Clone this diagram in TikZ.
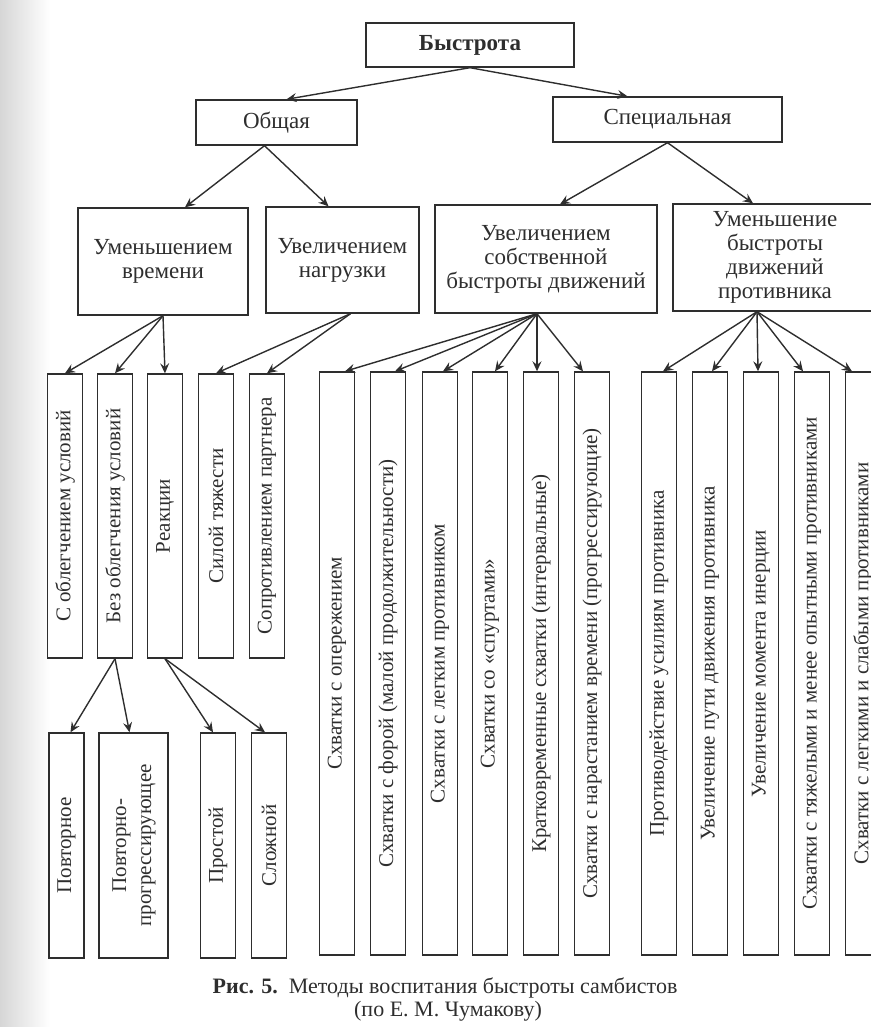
\documentclass[tikz,border=0pt]{standalone}
\usepackage{fontspec}
\setmainfont{Liberation Serif}
\usetikzlibrary{arrows.meta,positioning}
\colorlet{ink}{black!82}

\begin{document}
\begin{tikzpicture}[x=0.5pt,y=-0.5pt,
    box/.style={draw=ink,line width=0.7pt,inner sep=0pt,align=center,text=ink,font=\fontsize{11.5}{12}\selectfont},
    vbox/.style={draw=ink,line width=0.7pt,inner sep=0pt,minimum width=17.5pt,text=ink,font=\fontsize{10.5}{12.5}\selectfont},
    short/.style={vbox,minimum height=142pt},
    long/.style={vbox,minimum height=291.5pt},
    low/.style={vbox,minimum height=112.5pt},
    arr/.style={draw=ink,line width=0.7pt,-{Stealth[length=5pt,width=4.5pt,inset=1.8pt]}}]
    \useasboundingbox (0,0) rectangle (871,1027);
    % scan shadow on the left edge
    \shade[left color=black!16,right color=white] (0,0) rectangle (50,1027);

    % top levels
    \node[box,font=\fontsize{11.5}{12}\selectfont\bfseries,minimum width=104pt,minimum height=22pt] (bystr) at (470,45) {Быстрота};
    \node[box,minimum width=80.5pt,minimum height=22.5pt] (obsh) at (276.5,122.5) {Общая};
    \node[box,minimum width=114.5pt,minimum height=22.5pt] (spec) at (667.5,119.5) {Специальная};
    \node[box,minimum width=85pt,minimum height=53.5pt] (umvr) at (163,261.5) {Уменьшением\\времени};
    \node[box,minimum width=76.5pt,minimum height=53pt] (uvnag) at (342.5,260) {Увеличением\\нагрузки};
    \node[box,minimum width=111pt,minimum height=54pt] (uvsob) at (546,259) {Увеличением\\собственной\\быстроты движений};
    \node[box,minimum width=102pt,minimum height=53.5pt] (umprot) at (775,257.5) {Уменьшение\\быстроты\\движений\\противника};

    % vertical boxes
    \node[short] (s1) at (65,516) {\rotatebox{90}{С облегчением условий}};
    \node[short] (s2) at (115,516) {\rotatebox{90}{Без облегчения условий}};
    \node[short] (s3) at (165,516) {\rotatebox{90}{Реакции}};
    \node[short] (s4) at (216,516) {\rotatebox{90}{Силой тяжести}};
    \node[short] (s5) at (267,516) {\rotatebox{90}{Сопротивлением партнера}};

    \node[long] (l1) at (337,663.5) {\rotatebox{90}{Схватки с опережением}};
    \node[long] (l2) at (388,663.5) {\rotatebox{90}{Схватки с форой (малой продолжительности)}};
    \node[long] (l3) at (440,663.5) {\rotatebox{90}{Схватки с легким противником}};
    \node[long] (l4) at (490,663.5) {\rotatebox{90}{Схватки со «спуртами»}};
    \node[long] (l5) at (541,663.5) {\rotatebox{90}{Кратковременные схватки (интервальные)}};
    \node[long] (l6) at (592,663.5) {\rotatebox{90}{Схватки с нарастанием времени (прогрессирующие)}};

    \node[long] (r1) at (659,663.5) {\rotatebox{90}{Противодействие усилиям противника}};
    \node[long] (r2) at (710,663.5) {\rotatebox{90}{Увеличение пути движения противника}};
    \node[long] (r3) at (761,663.5) {\rotatebox{90}{Увеличение момента инерции}};
    \node[long] (r4) at (812,663.5) {\rotatebox{90}{Схватки с тяжелыми и менее опытными противниками}};
    \node[long] (r5) at (863,663.5) {\rotatebox{90}{Схватки с легкими и слабыми противниками}};

    \node[low] (b1) at (66.5,845.5) {\rotatebox{90}{Повторное}};
    \node[low,minimum width=34.5pt] (b2) at (133.5,845.5) {\rotatebox{90}{\begin{tabular}{@{}c@{}}Повторно-\\прогрессирующее\end{tabular}}};
    \node[low] (b3) at (218,845.5) {\rotatebox{90}{Простой}};
    \node[low] (b4) at (269,845.5) {\rotatebox{90}{Сложной}};

    % caption
    \node[text=ink,font=\fontsize{11}{13}\selectfont] (capt1) at (445,988) {\textbf{Рис. 5.}\ \ Методы воспитания быстроты самбистов};
    \node[text=ink,font=\fontsize{11}{13}\selectfont] (capt2) at (448,1011) {(по Е. М. Чумакову)};

    % arrows
    \draw[arr] (bystr.south) -- ([xshift=5pt]obsh.north);
    \draw[arr] (bystr.south) -- ([xshift=-20pt]spec.north);
    \draw[arr] ([xshift=-6pt]obsh.south) -- ([xshift=11pt]umvr.north);
    \draw[arr] ([xshift=-6pt]obsh.south) -- ([xshift=-7pt]uvnag.north);
    \draw[arr] (spec.south) -- ([xshift=7pt]uvsob.north);
    \draw[arr] (spec.south) -- ([xshift=-11pt]umprot.north);

    \draw[arr] (umvr.south) -- (s1.north);
    \draw[arr] (umvr.south) -- (s2.north);
    \draw[arr] (umvr.south) -- (s3.north);
    \draw[arr] ([xshift=4pt]uvnag.south) -- (s4.north);
    \draw[arr] ([xshift=4pt]uvnag.south) -- (s5.north);

    \draw[arr] ([xshift=-4.5pt]uvsob.south) -- ([xshift=4pt]l1.north);
    \draw[arr] ([xshift=-4.5pt]uvsob.south) -- ([xshift=3.5pt]l2.north);
    \draw[arr] ([xshift=-4.5pt]uvsob.south) -- ([xshift=1.5pt]l3.north);
    \draw[arr] ([xshift=-4.5pt]uvsob.south) -- ([xshift=2.5pt]l4.north);
    \draw[arr] ([xshift=-4.5pt]uvsob.south) -- ([xshift=-2pt]l5.north);
    \draw[arr] ([xshift=-4.5pt]uvsob.south) -- ([xshift=-4.5pt]l6.north);

    \draw[arr] ([xshift=-9pt]umprot.south) -- ([xshift=2pt]r1.north);
    \draw[arr] ([xshift=-9pt]umprot.south) -- ([xshift=1pt]r2.north);
    \draw[arr] ([xshift=-9pt]umprot.south) -- ([xshift=-1.5pt]r3.north);
    \draw[arr] ([xshift=-9pt]umprot.south) -- ([xshift=-4.5pt]r4.north);
    \draw[arr] ([xshift=-9pt]umprot.south) -- ([xshift=-5.5pt]r5.north);

    \draw[arr] (s2.south) -- ([xshift=2pt]b1.north);
    \draw[arr] (s2.south) -- ([xshift=-2pt]b2.north);
    \draw[arr] (s3.south) -- ([xshift=-2.5pt]b3.north);
    \draw[arr] (s3.south) -- ([xshift=-2pt]b4.north);
\end{tikzpicture}
\end{document}
